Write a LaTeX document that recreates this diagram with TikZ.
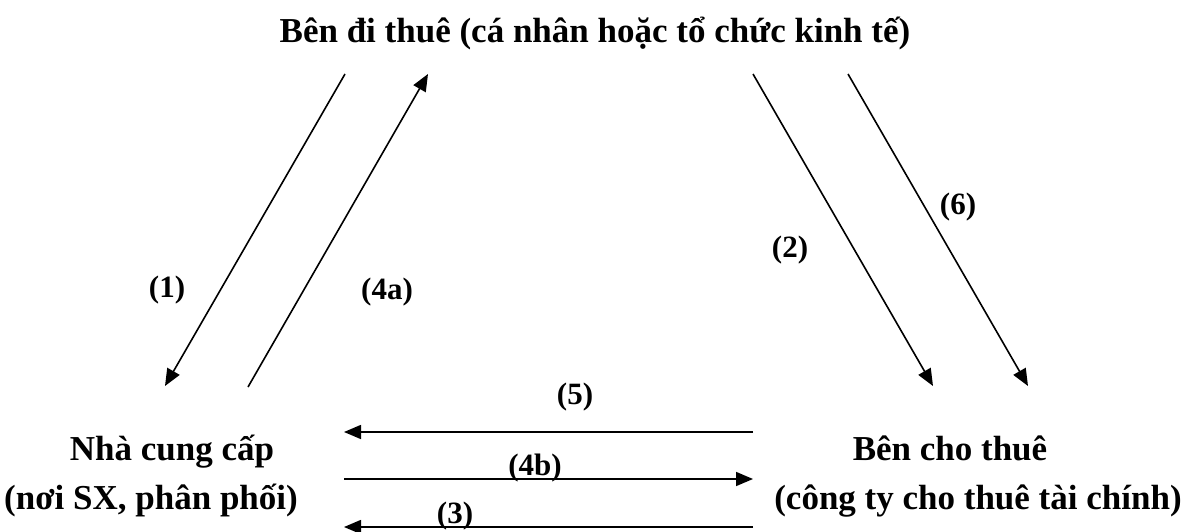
\documentclass[tikz,border=0pt]{standalone}
\usepackage{fontspec}
\setmainfont{Liberation Serif}
\usetikzlibrary{arrows.meta}
\begin{document}
\begin{tikzpicture}[x=1pt,y=-1pt,
  txt/.style={font=\fontsize{35}{40}\selectfont\bfseries, inner sep=0pt, anchor=base},
  lbl/.style={font=\fontsize{31}{36}\selectfont\bfseries, inner sep=0pt},
  arr/.style={line width=1.6pt, -{Triangle[length=17pt,width=14pt]}}]
\useasboundingbox (0,0) rectangle (1194,532);
% main texts
\node[txt] (top) at (595,43) {Bên đi thuê (cá nhân hoặc tổ chức kinh tế)};
\node[txt] (sup1) at (172,460) {Nhà cung cấp};
\node[txt] (sup2) at (151,509) {(nơi SX, phân phối)};
\node[txt] (les1) at (950,460) {Bên cho thuê};
\node[txt] (les2) at (978,509) {(công ty cho thuê tài chính)};
% arrow end points
\coordinate (a1s) at (345,74);  \coordinate (a1e) at (165,386);
\coordinate (a4s) at (248,387); \coordinate (a4e) at (428,74);
\coordinate (a2s) at (753,74);  \coordinate (a2e) at (933,386);
\coordinate (a6s) at (848,74);  \coordinate (a6e) at (1028,386);
\coordinate (a5s) at (753,432); \coordinate (a5e) at (344,432);
\coordinate (b4s) at (344,479); \coordinate (b4e) at (753,479);
\coordinate (a3s) at (753,527); \coordinate (a3e) at (344,527);
\draw[arr] (a1s) -- (a1e);
\draw[arr] (a4s) -- (a4e);
\draw[arr] (a2s) -- (a2e);
\draw[arr] (a6s) -- (a6e);
\draw[arr] (a5s) -- (a5e);
\draw[arr] (b4s) -- (b4e);
\draw[arr] (a3s) -- (a3e);
% labels
\node[lbl] (l1) at (167,290) {(1)};
\node[lbl] (l4a) at (387,292) {(4a)};
\node[lbl] (l2) at (790,250) {(2)};
\node[lbl] (l6) at (958,207) {(6)};
\node[lbl] (l5) at (575,397) {(5)};
\node[lbl] (l4b) at (535,468) {(4b)};
\node[lbl] (l3) at (455,516) {(3)};
\end{tikzpicture}
\end{document}
